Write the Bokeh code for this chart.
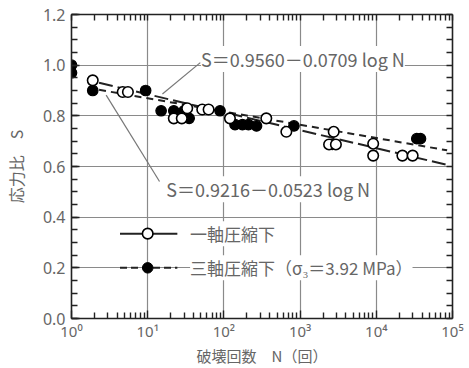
import numpy as np
from bokeh.plotting import figure
from bokeh.models import Range1d, LinearAxis, LogAxis, FixedTicker, Label
from bokeh.embed import file_html
from bokeh.resources import INLINE

# ---- data ----
# uniaxial compression (open circles)
uni_N = [1.9, 4.7, 5.5, 22, 28, 33, 52, 63, 120, 360, 660, 2400, 2760, 2950, 9100, 9100, 22000, 30000]
uni_S = [0.94, 0.894, 0.894, 0.79, 0.79, 0.83, 0.825, 0.825, 0.79, 0.79, 0.737, 0.687, 0.737, 0.687, 0.69, 0.643, 0.643, 0.643]
# triaxial compression, sigma3 = 3.92 MPa (filled circles)
tri_N = [1, 1, 1.9, 9.4, 15, 22, 30, 35, 89, 140, 175, 210, 268, 830, 2650, 34000, 38000]
tri_S = [1.0, 0.97, 0.90, 0.90, 0.82, 0.82, 0.82, 0.79, 0.82, 0.765, 0.765, 0.765, 0.76, 0.76, 0.687, 0.71, 0.71]

# regression lines S = a - b log N
uni_a, uni_b = 0.9560, 0.0709
tri_a, tri_b = 0.9216, 0.0523
fit_N = [2.3, 85000]

x_ticks = [1, 10, 100, 1000, 10000, 100000]
x_labels = ["10⁰", "10¹", "10²", "10³", "10⁴", "10⁵"]
y_ticks = [0.0, 0.2, 0.4, 0.6, 0.8, 1.0, 1.2]
y_labels = ["0.0", "0.2", "0.4", "0.6", "0.8", "1.0", "1.2"]

eq_uni = "S＝0.9560－0.0709 log N"
eq_tri = "S＝0.9216－0.0523 log N"
leg_uni = "一軸圧縮下"
leg_tri = "三軸圧縮下（σ₃＝3.92 MPa）"
x_title = "破壊回数　N（回）"
y_title = "応力比　S"

FONT = "Noto Sans CJK JP"
NUMFONT = "Noto Sans"
TXT = "#666666"
INK = "#222222"

p = figure(x_axis_type="log", width=467, height=368,
           x_range=Range1d(1, 1e5), y_range=Range1d(0, 1.2),
           output_backend="svg", toolbar_location=None,
           min_border_left=67, min_border_right=15, min_border_top=14, min_border_bottom=50)
p.outline_line_color = None
p.background_fill_color = "white"

x_minor = [m * 10 ** d for d in range(5) for m in range(2, 10)]
y_minor = [round(i * 0.05, 2) for i in range(25)]

bottom = p.below[0]
left = p.left[0]

bottom.ticker = FixedTicker(ticks=x_ticks, minor_ticks=x_minor)
bottom.major_label_overrides = dict(zip(x_ticks, x_labels))
bottom.axis_label = x_title
left.ticker = FixedTicker(ticks=y_ticks, minor_ticks=y_minor)
left.major_label_overrides = dict(zip(y_ticks, y_labels))
left.axis_label = y_title

# top / right: ticks only (no major labels)
top = LogAxis(ticker=FixedTicker(ticks=[], minor_ticks=x_minor + x_ticks))
right = LinearAxis(ticker=FixedTicker(ticks=[], minor_ticks=y_minor))
p.add_layout(top, "above")
p.add_layout(right, "right")

for ax in (bottom, left, top, right):
    ax.axis_line_color = INK
    ax.axis_line_width = 1.6
    ax.major_tick_line_color = INK
    ax.minor_tick_line_color = INK
    ax.major_tick_line_width = 1.4
    ax.minor_tick_line_width = 1.4
    ax.major_tick_in = 8
    ax.major_tick_out = 0
    ax.minor_tick_in = 6
    ax.minor_tick_out = 0
    ax.major_label_text_font = NUMFONT
    ax.major_label_text_color = TXT
    ax.major_label_text_font_size = "15px"
    ax.axis_label_text_font = FONT
    ax.axis_label_text_color = TXT
    ax.axis_label_text_font_size = "15px"
    ax.axis_label_text_font_style = "normal"

left.major_label_text_font_size = "16px"
left.axis_label_text_font_size = "16px"
top.major_label_standoff = 0
right.major_label_standoff = 0
bottom.major_label_standoff = 2
left.major_label_standoff = 6
bottom.axis_label_standoff = 1
left.axis_label_standoff = 12

# grid
p.xgrid.ticker = FixedTicker(ticks=x_ticks)
p.ygrid.ticker = FixedTicker(ticks=y_ticks)
for g in (p.xgrid[0], p.ygrid[0]):
    g.grid_line_color = "#8a8a8a"
    g.grid_line_width = 1.2

# regression lines
fx = np.array(fit_N, dtype=float)
p.line(fx, uni_a - uni_b * np.log10(fx), line_color=INK, line_width=2, line_dash="14 5")
p.line(fx, tri_a - tri_b * np.log10(fx), line_color=INK, line_width=2, line_dash="7 5")

# leader lines for the equations
p.line([49, 15.6], [1.01, 0.886], line_color="#777777", line_width=1.2)
p.line([14.3, 2.85], [0.541, 0.882], line_color="#777777", line_width=1.2)

# points
p.scatter(tri_N, tri_S, size=10.5, fill_color="black", line_color="black", line_width=1.2)
p.scatter(uni_N, uni_S, size=10.5, fill_color="white", line_color="black", line_width=1.6)

# legend (drawn inside the plot)
p.line([4.33, 24.5], [0.335, 0.335], line_color=INK, line_width=2)
p.scatter([10], [0.335], size=10.5, fill_color="white", line_color="black", line_width=1.6)
p.line([4.33, 24.5], [0.2, 0.2], line_color=INK, line_width=2, line_dash="7 4")
p.scatter([10], [0.2], size=10.5, fill_color="black", line_color="black")

def lab(x, y, t, size):
    p.add_layout(Label(x=x, y=y, text=t, text_font=FONT, text_font_size=size,
                       text_color=TXT, text_baseline="middle", text_align="left",
                       background_fill_color="white"))

lab(36, 0.335, leg_uni, "17px")
lab(36, 0.2, leg_tri, "17px")
lab(50, 1.024, eq_uni, "18px")
lab(17.5, 0.51, eq_tri, "18px")

open("out.html", "w").write(file_html(p, INLINE))
